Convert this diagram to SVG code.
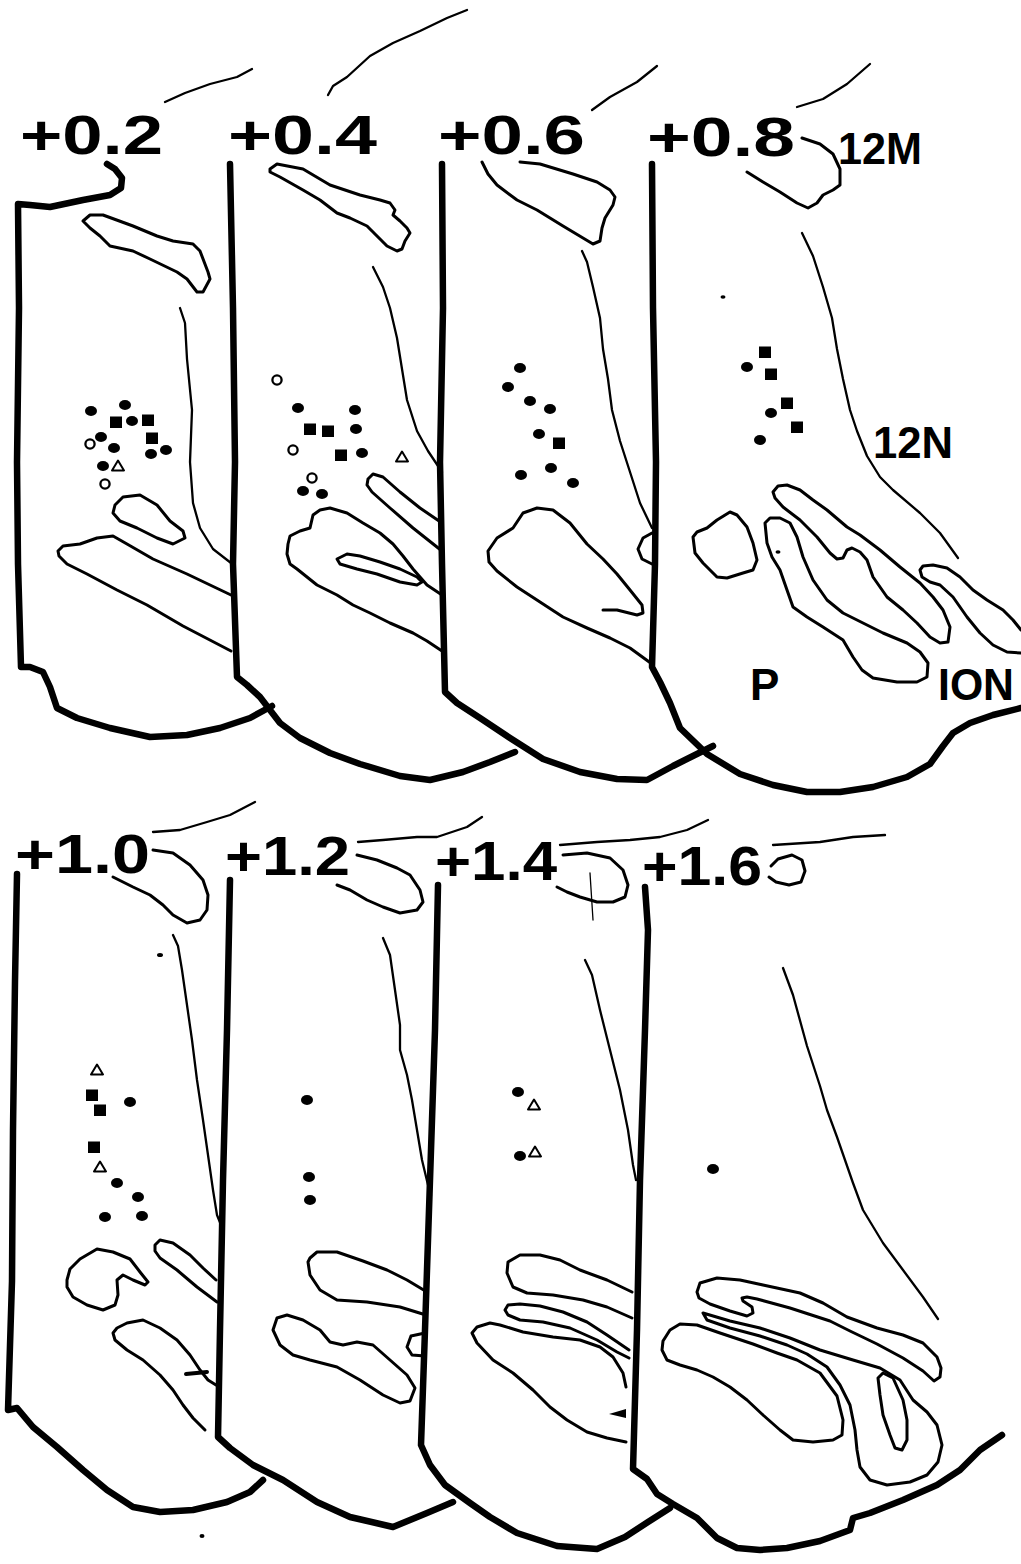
<svg xmlns="http://www.w3.org/2000/svg" width="1021" height="1564" viewBox="0 0 1021 1564">
  <style>
    .edge { fill: none; stroke: #000; stroke-width: 6.5; stroke-linecap: round; stroke-linejoin: round; }
    .ct { fill: none; stroke: #000; stroke-width: 3; stroke-linecap: round; stroke-linejoin: round; }
    .ln { fill: none; stroke: #000; stroke-width: 2.3; stroke-linecap: round; stroke-linejoin: round; }
    .tick { fill: none; stroke: #000; stroke-width: 1.3; stroke-linecap: round; }
    .lvl { font-family: "Liberation Sans", Arial, Helvetica, sans-serif; font-weight: bold; font-size: 55px; fill: #000; }
    .nm { font-family: "Liberation Sans", Arial, Helvetica, sans-serif; font-weight: bold; font-size: 44px; fill: #000; }
    .speck { fill: #000; }
  </style>
  <defs>
    <ellipse id="dot" rx="6" ry="5" fill="#000"/>
    <rect id="sq" x="-6" y="-5.5" width="12" height="11.5" fill="#000"/>
    <circle id="oc" r="4.6" fill="#fff" stroke="#000" stroke-width="2.3"/>
    <path id="tri" d="M0,-5.5 L6,4.5 L-6,4.5 Z" fill="#fff" stroke="#000" stroke-width="2" stroke-linejoin="round"/>
  </defs>
  <rect width="1021" height="1564" fill="#fff"/>

  <!-- ===== upper row ===== -->
  <g id="sec-0.2">
    <text class="lvl" x="20" y="154" textLength="143" lengthAdjust="spacingAndGlyphs">+0.2</text>
    <path class="ln" d="M165,102 L185,93 L210,84 L237,77 L252,69"/>
    <path class="edge" d="M107,164 L115,169 L122,178 L121,188 L110,195 L83,200 L50,207 L30,205 L18,204 L19,308 L17,462 L18,564 L21,667 L30,667 L43,672 L50,687 L57,708 L77,718 L110,728 L150,737 L187,735 L220,728 L250,718 L272,706"/>
    <path class="ct" d="M83,221 L90,215 L103,215 L133,226 L157,236 L173,241 L193,244 L200,251 L208,272 L210,279 L203,292 L197,292 L187,279 L177,272 L150,259 L133,251 L110,246 L100,236 L90,228 Z"/>
    <path class="ln" d="M180,308 L185,323 L187,359 L192,410 L190,462 L193,503 L200,528 L213,549 L231,563"/>
    <path class="ct" d="M115,505 L123,497 L140,495 L157,505 L170,521 L183,531 L185,538 L173,544 L157,538 L137,528 L120,521 L113,513 Z"/>
    <path class="ct" d="M231,595 L187,574 L153,559 L127,544 L113,536 L97,538 L80,544 L63,546 L58,551 L59,556 L67,564 L87,574 L117,590 L147,605 L183,626 L231,651"/>
    <use href="#dot" x="91" y="411"/>
    <use href="#dot" x="125" y="405"/>
    <use href="#sq" x="116" y="422"/>
    <use href="#dot" x="132" y="421"/>
    <use href="#sq" x="148" y="420"/>
    <use href="#oc" x="90" y="444"/>
    <use href="#dot" x="101" y="437"/>
    <use href="#dot" x="114" y="448"/>
    <use href="#sq" x="152" y="438"/>
    <use href="#dot" x="151" y="454"/>
    <use href="#dot" x="166" y="450"/>
    <use href="#dot" x="103" y="466"/>
    <use href="#tri" x="118" y="466"/>
    <use href="#oc" x="105" y="484"/>
  </g>

  <g id="sec-0.4">
    <text class="lvl" x="228" y="154" textLength="149" lengthAdjust="spacingAndGlyphs">+0.4</text>
    <path class="ln" d="M328,95 L333,86 L347,77 L370,56 L393,43 L420,31 L447,18 L467,10"/>
    <path class="edge" d="M230,164 L233,308 L235,462 L233,564 L237,677 L247,685 L260,697 L270,710 L280,723 L300,738 L330,753 L360,764 L400,776 L430,780 L463,772 L490,762 L515,752"/>
    <path class="ct" d="M270,169 L277,164 L303,169 L330,185 L360,195 L380,200 L390,203 L395,210 L393,215 L400,221 L407,228 L410,233 L405,241 L402,249 L397,251 L387,246 L377,236 L367,226 L350,218 L337,213 L320,200 L303,190 L280,177 L270,172 Z"/>
    <path class="ln" d="M373,267 L383,287 L390,308 L397,338 L402,369 L407,400 L417,431 L428,451 L442,472"/>
    <path class="ct" d="M442,523 L420,508 L400,492 L383,477 L373,474 L368,479 L367,485 L372,492 L390,508 L413,528 L442,551"/>
    <path class="ct" d="M442,595 L427,585 L413,569 L403,556 L393,544 L380,533 L363,523 L347,513 L330,508 L320,510 L313,515 L310,528 L300,531 L290,536 L288,544 L287,554 L290,564 L297,569 L317,585 L337,595 L353,605 L370,613 L390,623 L413,633 L427,641 L442,651"/>
    <path class="ct" d="M337,559 L347,554 L360,556 L380,562 L400,569 L417,577 L422,582 L417,585 L400,582 L377,574 L357,569 L340,564 Z"/>
    <use href="#oc" x="277" y="380"/>
    <use href="#dot" x="298" y="408"/>
    <use href="#dot" x="355" y="410"/>
    <use href="#sq" x="310" y="429"/>
    <use href="#sq" x="328" y="431"/>
    <use href="#dot" x="356" y="429"/>
    <use href="#oc" x="293" y="450"/>
    <use href="#sq" x="341" y="455"/>
    <use href="#dot" x="362" y="453"/>
    <use href="#tri" x="402" y="457"/>
    <use href="#oc" x="312" y="478"/>
    <use href="#dot" x="303" y="491"/>
    <use href="#dot" x="322" y="494"/>
  </g>

  <g id="sec-0.6">
    <text class="lvl" x="438" y="154" textLength="147" lengthAdjust="spacingAndGlyphs">+0.6</text>
    <path class="ln" d="M592,110 L610,97 L637,82 L657,66"/>
    <path class="edge" d="M442,164 L443,308 L440,462 L442,564 L445,692 L457,703 L480,718 L510,738 L543,759 L580,772 L617,779 L647,780 L673,766 L713,746"/>
    <path class="ct" d="M482,162 L488,174 L497,185 L517,200 L537,210 L563,226 L583,238 L593,244 L600,241 L602,228 L605,218 L613,205 L615,197 L610,190 L597,182 L573,174 L540,164 L520,162"/>
    <path class="ln" d="M582,251 L587,262 L593,287 L600,318 L603,349 L608,379 L612,410 L620,441 L630,472 L640,503 L652,528"/>
    <path class="ct" d="M652,664 L630,648 L610,638 L587,628 L563,617 L540,602 L517,587 L497,571 L489,562 L488,551 L497,538 L513,528 L523,513 L537,508 L553,510 L570,523 L587,544 L603,559 L617,574 L630,590 L642,605 L643,613 L637,615 L617,610 L603,610"/>
    <path class="ct" d="M652,533 L643,538 L638,549 L642,559 L652,564"/>
    <use href="#dot" x="520" y="368"/>
    <use href="#dot" x="508" y="387"/>
    <use href="#dot" x="530" y="401"/>
    <use href="#dot" x="550" y="409"/>
    <use href="#dot" x="539" y="434"/>
    <use href="#sq" x="559" y="443"/>
    <use href="#dot" x="521" y="475"/>
    <use href="#dot" x="551" y="468"/>
    <use href="#dot" x="573" y="483"/>
  </g>

  <g id="sec-0.8">
    <text class="lvl" x="647" y="156" textLength="148" lengthAdjust="spacingAndGlyphs">+0.8</text>
    <path class="ln" d="M797,107 L823,99 L847,84 L870,64"/>
    <path class="edge" d="M652,164 L653,308 L656,462 L655,564 L652,667 L660,682 L670,703 L680,728 L707,754 L740,774 L773,785 L807,792 L840,792 L873,787 L907,777 L930,764 L943,746 L953,733 L970,723 L993,715 L1021,708"/>
    <path class="ct" d="M802,138 L820,144 L833,154 L840,169 L840,185 L833,190 L823,195 L817,203 L808,208 L797,203 L780,192 L763,182 L747,172"/>
    <path class="ln" d="M802,233 L813,256 L823,287 L832,318 L837,349 L843,379 L850,410 L857,431 L867,456 L880,477 L893,490 L920,513 L940,533 L958,558"/>
    <path class="ct" d="M693,537 L697,532 L707,528 L717,520 L730,512 L737,515 L747,527 L753,543 L757,560 L753,570 L743,573 L727,578 L717,577 L703,563 L695,553 Z"/>
    <path class="ct" d="M773,492 L778,486 L787,485 L800,490 L813,500 L827,510 L847,527 L860,535 L880,550 L900,567 L920,583 L933,597 L943,610 L950,627 L948,642 L940,643 L930,637 L917,623 L903,610 L887,597 L873,577 L867,560 L860,552 L852,548 L847,550 L843,558 L837,559 L830,553 L817,537 L800,520 L783,507 L775,498 Z"/>
    <path class="ct" d="M765,523 L770,518 L780,518 L790,523 L797,537 L803,557 L813,580 L827,600 L843,613 L863,623 L883,633 L907,643 L920,652 L928,663 L927,677 L917,682 L897,682 L873,678 L862,670 L853,657 L843,640 L823,627 L807,617 L793,607 L787,590 L780,570 L772,557 L767,543 Z"/>
    <path class="ct" d="M1021,630 L1013,620 L1003,610 L987,600 L973,590 L960,577 L947,568 L933,565 L923,566 L920,570 L922,577 L930,582 L940,585 L953,597 L967,617 L980,633 L993,645 L1007,652 L1021,653"/>
    <ellipse class="speck" cx="723" cy="297" rx="2.5" ry="1.8"/>
    <ellipse class="speck" cx="778" cy="552" rx="2.5" ry="1.8"/>
    <use href="#sq" x="765" y="352"/>
    <use href="#dot" x="747" y="367"/>
    <use href="#sq" x="771" y="374"/>
    <use href="#sq" x="787" y="403"/>
    <use href="#dot" x="771" y="413"/>
    <use href="#sq" x="797" y="427"/>
    <use href="#dot" x="760" y="440"/>
    <text class="nm" x="838" y="164" textLength="84" lengthAdjust="spacingAndGlyphs">12M</text>
    <text class="nm" x="873" y="458" textLength="80" lengthAdjust="spacingAndGlyphs">12N</text>
    <text class="nm" x="750" y="700">P</text>
    <text class="nm" x="938" y="700" textLength="76" lengthAdjust="spacingAndGlyphs">ION</text>
  </g>

  <!-- ===== lower row ===== -->
  <g id="sec-1.0">
    <text class="lvl" x="15" y="873" textLength="135" lengthAdjust="spacingAndGlyphs">+1.0</text>
    <path class="ln" d="M153,832 L180,830 L207,822 L230,815 L255,802"/>
    <path class="edge" d="M17,874 L15,981 L13,1130 L12,1281 L8,1410 L17,1408 L33,1427 L57,1447 L83,1470 L107,1490 L133,1507 L160,1512 L193,1510 L227,1502 L250,1492 L263,1480"/>
    <path class="ct" d="M153,850 L173,853 L190,865 L203,880 L208,895 L207,910 L200,920 L187,923 L173,915 L163,905 L150,895 L133,887 L113,877"/>
    <path class="ln" d="M173,935 L178,946 L182,970 L187,1005 L192,1040 L197,1080 L203,1120 L208,1155 L213,1190 L217,1215 L221,1225"/>
    <path class="ct" d="M67,1280 L70,1269 L80,1259 L97,1249 L113,1252 L130,1259 L140,1272 L148,1282 L145,1285 L133,1280 L123,1275 L117,1280 L118,1295 L115,1305 L103,1310 L87,1305 L73,1297 L67,1287 Z"/>
    <path class="ct" d="M216,1280 L203,1268 L190,1255 L173,1243 L160,1240 L155,1245 L155,1251 L160,1258 L177,1270 L197,1287 L217,1302"/>
    <path class="ct" d="M216,1385 L208,1380 L200,1370 L190,1355 L177,1340 L160,1328 L143,1320 L127,1323 L117,1328 L113,1333 L115,1340 L127,1350 L143,1360 L160,1375 L173,1390 L183,1405 L193,1418 L205,1430"/>
    <path d="M186,1374 L207,1372" stroke="#000" stroke-width="4" stroke-linecap="round"/>
    <ellipse class="speck" cx="160" cy="955" rx="3" ry="2"/>
    <ellipse class="speck" cx="202" cy="1536" rx="2.5" ry="2"/>
    <use href="#tri" x="97" y="1070"/>
    <use href="#sq" x="92" y="1095"/>
    <use href="#dot" x="130" y="1102"/>
    <use href="#sq" x="100" y="1110"/>
    <use href="#sq" x="94" y="1147"/>
    <use href="#tri" x="100" y="1167"/>
    <use href="#dot" x="117" y="1183"/>
    <use href="#dot" x="138" y="1197"/>
    <use href="#dot" x="105" y="1217"/>
    <use href="#dot" x="142" y="1216"/>
  </g>

  <g id="sec-1.2">
    <text class="lvl" x="225" y="875" textLength="125" lengthAdjust="spacingAndGlyphs">+1.2</text>
    <path class="ln" d="M358,842 L383,840 L417,837 L437,837 L467,827 L482,817"/>
    <path class="edge" d="M230,880 L227,1030 L223,1180 L220,1330 L218,1437 L230,1448 L253,1465 L283,1480 L317,1502 L350,1517 L393,1527 L427,1513 L453,1502"/>
    <path class="ct" d="M357,855 L377,860 L397,868 L410,875 L420,890 L423,902 L417,910 L400,913 L383,907 L367,900 L350,890 L337,885"/>
    <path class="ln" d="M383,938 L390,955 L395,990 L400,1025 L400,1050 L407,1075 L412,1100 L417,1130 L422,1160 L428,1185 L431,1195"/>
    <path class="ct" d="M427,1292 L407,1280 L387,1270 L363,1261 L337,1252 L317,1252 L310,1258 L308,1262 L310,1275 L320,1290 L337,1300 L367,1302 L400,1307 L426,1315"/>
    <path class="ct" d="M277,1318 L287,1315 L303,1320 L320,1330 L330,1342 L343,1345 L357,1342 L373,1345 L390,1360 L407,1375 L415,1388 L410,1401 L400,1403 L383,1395 L360,1380 L337,1367 L310,1360 L293,1355 L280,1345 L273,1330 Z"/>
    <path class="ct" d="M425,1333 L411,1336 L407,1347 L412,1355 L425,1356"/>
    <use href="#dot" x="307" y="1100"/>
    <use href="#dot" x="309" y="1177"/>
    <use href="#dot" x="310" y="1200"/>
  </g>

  <g id="sec-1.4">
    <text class="lvl" x="435" y="880" textLength="122" lengthAdjust="spacingAndGlyphs">+1.4</text>
    <path class="ln" d="M560,845 L597,842 L630,840 L660,837 L687,830 L708,820"/>
    <path class="edge" d="M438,885 L435,1030 L430,1180 L425,1330 L421,1445 L430,1465 L445,1485 L470,1503 L490,1517 L517,1533 L557,1546 L597,1549 L625,1537 L648,1522 L670,1508"/>
    <path class="ct" d="M563,855 L587,853 L610,858 L623,870 L628,885 L625,897 L613,902 L597,902 L580,897 L567,892 L557,887"/>
    <path class="tick" d="M590,873 L593,920"/>
    <path class="ln" d="M585,960 L592,975 L600,1010 L610,1050 L620,1090 L628,1130 L633,1165 L636,1180"/>
    <path class="ct" d="M632,1292 L607,1280 L580,1270 L560,1260 L540,1255 L520,1255 L508,1262 L507,1273 L513,1287 L527,1293 L553,1295 L583,1300 L607,1307 L632,1318"/>
    <path class="ct" d="M629,1350 L607,1335 L587,1322 L563,1312 L540,1306 L520,1304 L508,1305 L505,1310 L508,1315 L520,1320 L543,1322 L570,1328 L597,1340 L617,1352 L629,1358"/>
    <path class="ct" d="M626,1387 L623,1373 L613,1357 L600,1347 L580,1340 L553,1337 L523,1332 L500,1325 L490,1323 L477,1327 L472,1333 L477,1343 L493,1360 L513,1373 L533,1390 L550,1407 L567,1420 L587,1432 L607,1438 L626,1442"/>
    <path d="M626,1409 L609,1414 L626,1418 Z" fill="#000"/>
    <use href="#dot" x="518" y="1092"/>
    <use href="#tri" x="534" y="1105"/>
    <use href="#dot" x="520" y="1156"/>
    <use href="#tri" x="535" y="1152"/>
  </g>

  <g id="sec-1.6">
    <text class="lvl" x="642" y="885" textLength="120" lengthAdjust="spacingAndGlyphs">+1.6</text>
    <path class="ln" d="M773,845 L820,842 L853,837 L885,835"/>
    <path class="ct" d="M771,866 L778,859 L792,855 L802,860 L805,871 L801,882 L789,885 L776,882 L769,877"/>
    <path class="edge" d="M645,887 L648,930 L645,1030 L640,1180 L637,1330 L633,1469 L647,1479 L657,1494 L673,1504 L697,1518 L717,1538 L737,1548 L760,1550 L787,1548 L820,1541 L850,1530 L853,1518 L870,1513 L903,1500 L937,1485 L960,1470 L980,1450 L1002,1435"/>
    <path class="ln" d="M783,968 L793,995 L807,1046 L820,1086 L827,1110 L837,1137 L853,1183 L863,1210 L883,1243 L903,1270 L923,1297 L938,1319"/>
    <path class="ct" d="M697,1292 L700,1283 L717,1278 L740,1280 L763,1285 L800,1293 L823,1303 L847,1317 L877,1328 L903,1335 L923,1343 L937,1357 L941,1368 L940,1377 L934,1381 L923,1371 L903,1358 L877,1344 L850,1331 L830,1321 L790,1308 L757,1299 L747,1297 L742,1298 L743,1301 L752,1307 L753,1313 L747,1316 L730,1311 L710,1304 L699,1298 Z"/>
    <path class="ct" d="M703,1313 L730,1321 L760,1328 L790,1338 L820,1350 L853,1360 L880,1368 L900,1380 L913,1400 L927,1412 L937,1425 L942,1445 L938,1462 L927,1475 L910,1482 L887,1485 L870,1480 L860,1467 L857,1450 L855,1430 L850,1405 L840,1385 L827,1367 L807,1354 L787,1345 L760,1336 L730,1328 L707,1320 Z"/>
    <path class="ct" d="M878,1378 L883,1373 L893,1378 L903,1400 L907,1420 L907,1440 L902,1450 L895,1448 L890,1435 L883,1415 L880,1395 Z"/>
    <path class="ct" d="M663,1341 L670,1330 L680,1324 L697,1325 L720,1333 L753,1344 L777,1353 L797,1360 L820,1373 L837,1396 L843,1420 L842,1435 L833,1440 L813,1442 L793,1440 L780,1430 L763,1415 L747,1400 L730,1387 L713,1377 L697,1370 L680,1365 L667,1360 L662,1350 Z"/>
    <use href="#dot" x="713" y="1169"/>
  </g>
</svg>
